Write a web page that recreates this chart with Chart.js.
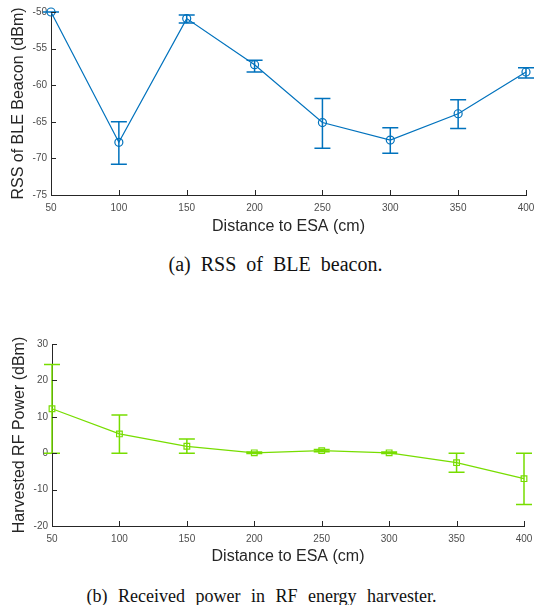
<!DOCTYPE html>
<html>
<head>
<meta charset="utf-8">
<script src="https://cdn.jsdelivr.net/npm/chart.js@4.4.1/dist/chart.umd.min.js"></script>
<style>
  html, body { margin: 0; padding: 0; background: #fff; }
  body { width: 535px; height: 605px; position: relative; overflow: hidden; }
  canvas { position: absolute; left: 0; }
  #rssChart { top: 0; }
  #rfChart { top: 330px; }
  .caption {
    position: absolute; width: 535px; text-align: center;
    font-family: "Liberation Serif", "Times New Roman", serif; color: #111;
    line-height: 1; white-space: nowrap;
  }
  #capA { top: 254px; left: 8px; font-size: 20px; word-spacing: 5px; }
  #capB { top: 587px; left: -6px; font-size: 18px; word-spacing: 6px; }
</style>
</head>
<body>
<canvas id="rssChart" width="535" height="240"></canvas>
<div class="caption" id="capA">(a) RSS of BLE beacon.</div>
<canvas id="rfChart" width="535" height="240"></canvas>
<div class="caption" id="capB">(b) Received power in RF energy harvester.</div>

<script>
// ---- data ----
const distances = [50, 100, 150, 200, 250, 300, 350, 400];

// (a) RSS of BLE beacon (dBm)
const rssMean  = [-50.0, -67.8, -50.9, -57.2, -65.1, -67.5, -63.9, -58.2];
const rssUpper = [-50.0, -65.0, -50.4, -56.6, -61.8, -65.8, -62.0, -57.6];
const rssLower = [-50.0, -70.8, -51.5, -58.2, -68.6, -69.3, -65.9, -59.0];

// (b) harvested RF power (dBm)
const rfMean  = [12.2, 5.3, 1.9, 0.1, 0.7, 0.1, -2.6, -7.0];
const rfUpper = [24.4, 10.5, 3.9, 0.3, 1.0, 0.3, 0.0, 0.0];
const rfLower = [0.0, 0.0, 0.0, -0.1, 0.4, -0.1, -5.2, -14.1];

const AXIS_COLOR = "#262626";
const TICK_COLOR = "#4d4d4d";

// error bars with caps, drawn through the chart scales
const errorBars = {
  id: "errorBars",
  afterDatasetsDraw(chart, args, opts) {
    const { ctx, scales: { x, y } } = chart;
    ctx.save();
    ctx.strokeStyle = opts.color;
    ctx.lineWidth = 1.5;
    opts.xs.forEach((d, i) => {
      const px = x.getPixelForValue(d);
      const top = y.getPixelForValue(opts.upper[i]);
      const bot = y.getPixelForValue(opts.lower[i]);
      ctx.beginPath();
      ctx.moveTo(px, top); ctx.lineTo(px, bot);
      ctx.moveTo(px - opts.cap, top); ctx.lineTo(px + opts.cap, top);
      ctx.moveTo(px - opts.cap, bot); ctx.lineTo(px + opts.cap, bot);
      ctx.stroke();
    });
    ctx.restore();
  }
};

// MATLAB-like inward tick marks
const inwardTicks = {
  id: "inwardTicks",
  afterDraw(chart) {
    const { ctx, scales: { x, y } } = chart;
    ctx.save();
    ctx.strokeStyle = AXIS_COLOR;
    ctx.lineWidth = 1;
    ctx.beginPath();
    x.ticks.forEach(t => {
      const px = Math.round(x.getPixelForValue(t.value)) + 0.5;
      ctx.moveTo(px, x.top); ctx.lineTo(px, x.top - 5);
    });
    y.ticks.forEach(t => {
      const py = Math.round(y.getPixelForValue(t.value)) + 0.5;
      ctx.moveTo(y.right, py); ctx.lineTo(y.right + 5, py);
    });
    ctx.stroke();
    ctx.restore();
  }
};

function makeChart(id, cfg) {
  return new Chart(document.getElementById(id), {
    type: "line",
    data: {
      datasets: [{
        data: distances.map((d, i) => ({ x: d, y: cfg.mean[i] })),
        borderColor: cfg.color,
        borderWidth: 1.2,
        tension: 0,
        pointStyle: cfg.marker,
        pointRadius: cfg.markerSize,
        pointBorderColor: cfg.color,
        pointBackgroundColor: "rgba(0,0,0,0)",
        pointBorderWidth: 1.2,
        clip: false,
      }],
    },
    options: {
      responsive: false,
      animation: false,
      layout: { padding: { top: cfg.top, right: cfg.right, left: 0, bottom: 0 } },
      plugins: {
        legend: { display: false },
        tooltip: { enabled: false },
        errorBars: { xs: distances, upper: cfg.upper, lower: cfg.lower, color: cfg.color, cap: 8 },
      },
      scales: {
        x: {
          type: "linear",
          min: 50, max: 400,
          afterFit: (s) => { s.height = cfg.xHeight; s.paddingRight = 0; },
          grid: { display: false, drawTicks: false },
          border: { display: true, color: AXIS_COLOR, width: 1 },
          ticks: { stepSize: 50, padding: 7, color: TICK_COLOR, font: { family: "Liberation Sans, Arial", size: 10 }, maxRotation: 0 },
          title: {
            display: true, text: "Distance to ESA (cm)", color: AXIS_COLOR,
            font: { family: "Liberation Sans, Arial", size: 16 },
            padding: { top: 0, bottom: 4 },
          },
        },
        y: {
          min: cfg.yMin, max: cfg.yMax,
          afterFit: (s) => { s.width = cfg.yWidth; },
          grid: { display: false, drawTicks: false },
          border: { display: true, color: AXIS_COLOR, width: 1 },
          ticks: { stepSize: cfg.yStep, padding: 4, color: TICK_COLOR, font: { family: "Liberation Sans, Arial", size: 10 } },
          title: {
            display: true, text: cfg.yTitle, color: AXIS_COLOR,
            font: { family: "Liberation Sans, Arial", size: 16 },
            padding: { top: cfg.yTitlePad, bottom: 0 },
          },
        },
      },
    },
    plugins: [errorBars, inwardTicks],
  });
}

makeChart("rssChart", {
  mean: rssMean, upper: rssUpper, lower: rssLower,
  color: "#0072bd", marker: "circle", markerSize: 4,
  yMin: -75, yMax: -50, yStep: 5,
  yTitle: "RSS of BLE Beacon (dBm)", yTitlePad: 9,
  top: 12, right: 9, xHeight: 45, yWidth: 51,
});

makeChart("rfChart", {
  mean: rfMean, upper: rfUpper, lower: rfLower,
  color: "#77dd00", marker: "rect", markerSize: 4,
  yMin: -20, yMax: 30, yStep: 10,
  yTitle: "Harvested RF Power (dBm)", yTitlePad: 10,
  top: 14, right: 11, xHeight: 44, yWidth: 52,
});
</script>
</body>
</html>
